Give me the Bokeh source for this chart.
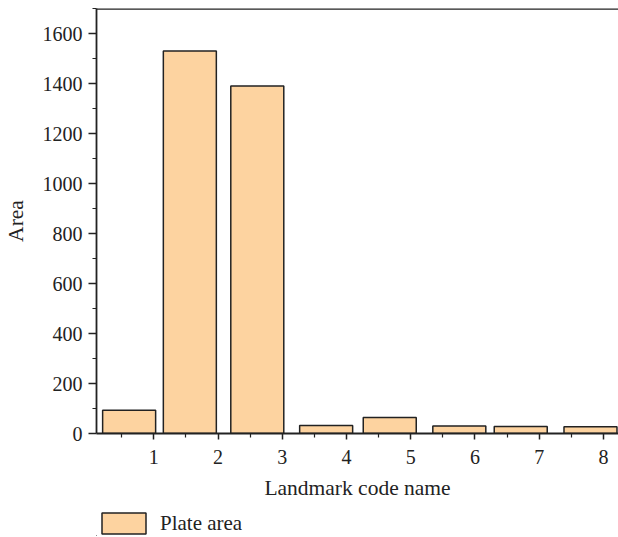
from bokeh.plotting import figure
from bokeh.layouts import column
from bokeh.models import (ColumnDataSource, Range1d, FixedTicker, Span, Legend, LegendItem)
from bokeh.embed import file_html
from bokeh.resources import INLINE

# ---- data ----
codes = [1, 2, 3, 4, 5, 6, 7, 8]
bar_x = [0.616, 1.561, 2.611, 3.683, 4.673, 5.756, 6.712, 7.798]
plate_area = [93, 1530, 1390, 32, 64, 30, 28, 27]
x_ticks = [1, 2, 3, 4, 5, 6, 7, 8]
y_ticks = [0, 200, 400, 600, 800, 1000, 1200, 1400, 1600]
series_name = "Plate area"
x_label = "Landmark code name"
y_label = "Area"

FONT = "Liberation Serif"
INK = "#222222"
FILL = "#FDD3A0"

src = ColumnDataSource(dict(code=codes, x=bar_x, area=plate_area))

p = figure(width=618, height=508, output_backend="svg",
           toolbar_location=None, x_range=Range1d(0.108, 8.234),
           y_range=Range1d(0, 1700), min_border_left=96, min_border_top=8,
           min_border_right=0, min_border_bottom=75)
p.outline_line_color = None
p.xgrid.visible = False
p.ygrid.visible = False
p.background_fill_color = "white"
p.border_fill_color = "white"

bar_style = dict(fill_color=FILL, line_color=INK, line_width=1.5)
r = p.vbar(x="x", top="area", width=0.825, bottom=0, source=src, **bar_style)

p.xaxis.ticker = FixedTicker(ticks=x_ticks,
                             minor_ticks=[t - 0.5 for t in x_ticks] + [8.5])
p.yaxis.ticker = FixedTicker(ticks=y_ticks,
                             minor_ticks=[t + 100 for t in y_ticks])

for ax in (p.xaxis[0], p.yaxis[0]):
    ax.axis_line_color = INK
    ax.axis_line_width = 1.8
    ax.major_tick_line_color = INK
    ax.minor_tick_line_color = INK
    ax.major_tick_line_width = 1.5
    ax.minor_tick_line_width = 1.2
    ax.major_tick_in = 0
    ax.minor_tick_in = 0
    ax.major_label_text_font = FONT
    ax.major_label_text_font_size = "20px"
    ax.major_label_text_color = INK
    ax.axis_label_text_font = FONT
    ax.axis_label_text_font_size = "21.5px"
    ax.axis_label_text_font_style = "normal"
    ax.axis_label_text_color = INK

p.xaxis.major_tick_out = 6
p.xaxis.minor_tick_out = 4
p.yaxis.major_tick_out = 8
p.yaxis.minor_tick_out = 4
p.xaxis.major_label_standoff = 10
p.yaxis.major_label_standoff = 6
p.xaxis.axis_label = x_label
p.yaxis.axis_label = y_label
p.xaxis.axis_label_standoff = 9
p.yaxis.axis_label_standoff = 12

# top frame line
p.add_layout(Span(location=1700, dimension="width", line_color=INK, line_width=2.5))

# legend strip below the chart (same series; its bars lie far outside this strip's view)
p2 = figure(width=618, height=28, output_backend="svg", toolbar_location=None,
            x_range=Range1d(1000, 1001), y_range=Range1d(100000, 100001),
            x_axis_type=None, y_axis_type=None,
            min_border_left=94, min_border_top=0, min_border_right=0,
            min_border_bottom=0)
p2.outline_line_color = None
p2.xgrid.visible = False
p2.ygrid.visible = False
r2 = p2.vbar(x="x", top="area", width=0.825, bottom=0, source=src, **bar_style)

legend = Legend(items=[LegendItem(label=series_name, renderers=[r2], index=0)],
                location="bottom_left", orientation="horizontal",
                border_line_color=None, background_fill_alpha=0,
                glyph_width=55, glyph_height=26, label_height=26,
                label_standoff=9, label_text_font=FONT,
                label_text_font_size="21px", label_text_color=INK,
                margin=0, padding=0, spacing=0)
p2.add_layout(legend, "center")

layout = column(p, p2, spacing=0)
open("out.html", "w").write(file_html(layout, INLINE))
